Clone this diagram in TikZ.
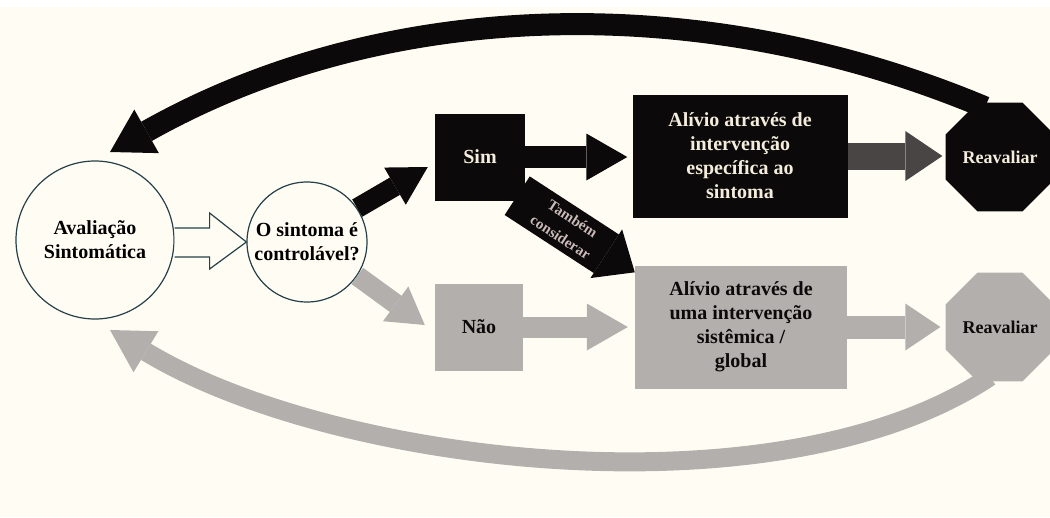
\documentclass[tikz,border=0pt]{standalone}
\usepackage{fontspec}
\setmainfont{Liberation Serif}
\usetikzlibrary{arrows.meta,shapes.geometric,calc}

\definecolor{paper}{HTML}{FFFDF3}
\definecolor{ink}{HTML}{0B0909}
\definecolor{ash}{HTML}{B3AFAC}
\definecolor{slate}{HTML}{4A4545}
\definecolor{rim}{HTML}{24404A}
\definecolor{lighttext}{HTML}{F4ECDC}
\definecolor{dimtext}{HTML}{CBBABA}

\begin{document}
\begin{tikzpicture}[x=1pt,y=-1pt,
  txt/.style={font=\fontsize{20}{24}\selectfont\bfseries, align=center, inner sep=1pt},
  ring/.style={circle, draw=rim, line width=1.2pt, fill=paper, txt},
  darkbox/.style={rectangle, fill=ink, text=lighttext, txt},
  greybox/.style={rectangle, fill=ash, text=ink, txt},
  octa/.style={regular polygon, regular polygon sides=8, minimum size=108pt,
    inner sep=1pt, align=center, font=\fontsize{18}{22}\selectfont\bfseries},
  arr/.style n args={3}{line width=#1, -{Triangle[length=#2, width=#3, line width=0pt]}},
  hollow/.style={draw=rim, line width=1.2pt, fill=paper, line join=miter},
  sidenote/.style={font=\fontsize{15}{22}\selectfont\bfseries, align=center,
    text=dimtext, inner sep=0pt}
]
% page and paper
\useasboundingbox (0,0) rectangle (1050,517);
\fill[white] (0,0) rectangle (1050,517);
\fill[paper] (0,7) rectangle (1050,517);

% nodes
\node[ring, minimum size=158pt] (c1) at (95,240) {Avaliação\\Sintomática};
\node[ring, minimum size=120pt] (c2) at (307,242) {O sintoma é\\controlável?};
\node[darkbox, minimum width=90pt, minimum height=87pt] (sim) at (480,157) {Sim};
\node[darkbox, minimum width=215pt, minimum height=123pt] (box1) at (740,156)
  {Alívio através de\\intervenção\\específica ao\\sintoma};
\node[greybox, minimum width=88pt, minimum height=87pt] (nao) at (479,327) {Não};
\node[greybox, minimum width=212pt, minimum height=123pt] (box2) at (741,327)
  {Alívio através de\\uma intervenção\\sistêmica /\\global};
\node[octa, fill=ink, text=lighttext] (oct1) at (1000,157) {Reavaliar};
\node[octa, fill=ash, text=ink] (oct2) at (1000,327) {Reavaliar};

% hollow arrow between the circles
\filldraw[hollow] ($(c1.east)+(0,-12)$) -- ($(c1.east)+(35,-12)$) -- ($(c1.east)+(35,-27)$)
  -- (c2.west) -- ($(c1.east)+(35,29)$) -- ($(c1.east)+(35,17)$) -- ($(c1.east)+(0,17)$);

% yes branch
\draw[arr={20pt}{38pt}{43pt}, ink] (c2.34) -- ($(sim.west)+(-7,10)$);
\draw[arr={22pt}{41pt}{47pt}, ink] (sim.east) -- ($(sim.east -| box1.west)+(-5,0)$);
\draw[arr={27pt}{37pt}{50pt}, slate] (box1.east) -- ($(box1.east -| oct1.west)+(-3,0)$);

% no branch
\draw[arr={20pt}{36pt}{43pt}, ash] (c2.-34) -- ($(nao.west)+(-10,-2)$);
\draw[arr={21pt}{41pt}{47pt}, ash] (nao.east) -- ($(nao.east -| box2.west)+(-7,0)$);
\draw[arr={23pt}{35pt}{47pt}, ash] (box2.east) -- ($(box2.east -| oct2.west)+(-5,0)$);

% cross link from yes to the global relief
\draw[arr={46pt}{34pt}{58pt}, ink] ($(sim.south east)+(-8,-5)$)
  -- node[pos=0.42, sloped, sidenote] {Também\\considerar} ($(box2.north west)+(0,7)$);

% return loops to the assessment
\coordinate (backtop) at ($(c1.center)+(15,-88)$);
\coordinate (backbot) at ($(c1.center)+(15,90)$);
\draw[arr={22pt}{42pt}{50pt}, ink] ($(oct1.north)+(-15,5)$)
  .. controls (698,-13) and (381,-1) .. (backtop);
\draw[arr={19pt}{42pt}{48pt}, ash] ($(oct2.south)+(-10,-5)$)
  .. controls (778,518) and (333,465) .. (backbot);
\end{tikzpicture}
\end{document}
